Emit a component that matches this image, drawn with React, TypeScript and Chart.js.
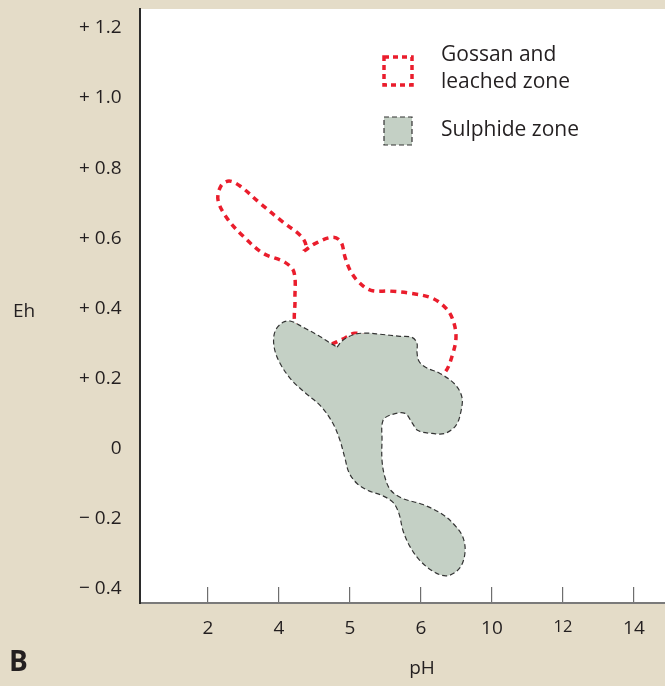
import React, { useEffect, useRef } from 'react';
import { Chart, registerables } from 'chart.js';

Chart.register(...registerables);

const FONT = '"Open Sans", "Noto Sans", sans-serif';
const BG = '#e4dcc8';
const TEXT = '#231f20';

// x axis: equally spaced tick slots carrying the printed pH labels
const pHTickPositions = [1, 2, 3, 4, 5, 6, 7];
const pHTickLabels = ['2', '4', '5', '6', '10', '12', '14'];
// y axis: Eh (volts)
const ehTickValues = [-0.4, -0.2, 0, 0.2, 0.4, 0.6, 0.8, 1.0, 1.2];
const ehTickLabels = ['− 0.4', '− 0.2', '0', '+ 0.2', '+ 0.4', '+ 0.6', '+ 0.8', '+ 1.0', '+ 1.2'];

// Gossan and leached zone outline (x in tick-slot units, y = Eh)
const gossanX = [2.352, 2.521, 2.761, 2.873, 2.93, 3.0, 3.113, 3.296, 3.563, 3.845, 4.155, 4.352, 4.451, 4.493, 4.437, 4.338, 4.197, 3.915, 3.563, 3.254, 3.07, 2.887, 2.69, 2.465, 2.239, 2.225, 2.211, 2.085, 1.775, 1.493, 1.268, 1.141, 1.183, 1.296, 1.451, 1.732, 2.056, 2.31, 2.38, 2.352];
const gossanY = [0.563, 0.586, 0.603, 0.589, 0.546, 0.509, 0.477, 0.451, 0.449, 0.443, 0.429, 0.4, 0.366, 0.317, 0.263, 0.217, 0.2, 0.229, 0.286, 0.317, 0.329, 0.311, 0.297, 0.314, 0.349, 0.423, 0.503, 0.531, 0.557, 0.606, 0.657, 0.709, 0.749, 0.763, 0.749, 0.7, 0.646, 0.606, 0.58, 0.563];

// Sulphide zone outline
const sulphideX = [2.817, 2.901, 3.07, 3.239, 3.423, 3.704, 3.873, 3.944, 3.944, 3.972, 4.07, 4.268, 4.479, 4.577, 4.563, 4.493, 4.338, 4.155, 3.958, 3.873, 3.775, 3.592, 3.465, 3.451, 3.451, 3.493, 3.577, 3.746, 4.028, 4.31, 4.493, 4.592, 4.62, 4.549, 4.38, 4.197, 3.986, 3.845, 3.746, 3.69, 3.606, 3.451, 3.254, 3.099, 2.986, 2.93, 2.859, 2.761, 2.592, 2.38, 2.183, 2.014, 1.93, 1.944, 2.056, 2.169, 2.338, 2.549, 2.704, 2.817];
const sulphideY = [0.289, 0.309, 0.326, 0.329, 0.326, 0.32, 0.317, 0.3, 0.274, 0.249, 0.231, 0.214, 0.183, 0.146, 0.106, 0.066, 0.043, 0.043, 0.051, 0.074, 0.1, 0.097, 0.08, 0.023, -0.034, -0.083, -0.12, -0.143, -0.16, -0.189, -0.223, -0.254, -0.297, -0.34, -0.363, -0.354, -0.32, -0.28, -0.234, -0.186, -0.154, -0.134, -0.12, -0.1, -0.069, -0.029, 0.023, 0.071, 0.12, 0.157, 0.194, 0.243, 0.291, 0.334, 0.36, 0.363, 0.346, 0.323, 0.303, 0.289];

const seriesLabels = ['Sulphide zone', 'Gossan and leached zone'];
const legendLines = [['Gossan and', 'leached zone'], ['Sulphide zone']];

const RED = '#ea1d2c';
const GREY_FILL = '#c4d0c5';
const GREY_LINE = '#333333';

const zip = (xs: number[], ys: number[]) => xs.map((x, i) => ({ x, y: ys[i] }));

const decorPlugin = {
  id: 'decor',
  beforeDraw(chart: any) {
    const { ctx, chartArea: a } = chart;
    ctx.save();
    ctx.fillStyle = BG;
    ctx.fillRect(0, 0, chart.width, chart.height);
    ctx.fillStyle = '#ffffff';
    ctx.fillRect(a.left, a.top, a.right - a.left, a.bottom - a.top);
    ctx.restore();
  },
  afterDraw(chart: any) {
    const { ctx, chartArea: a } = chart;
    ctx.save();
    ctx.fillStyle = TEXT;
    ctx.textBaseline = 'middle';
    // axis titles and panel letter
    ctx.font = `19px ${FONT}`;
    ctx.textAlign = 'center';
    ctx.fillText('Eh', 24, 312);
    ctx.fillText('pH', 422, 669);
    ctx.font = `bold 28px ${FONT}`;
    ctx.textAlign = 'left';
    ctx.fillText('B', 9, 663);

    // legend
    const lx = a.left + 244;
    // gossan swatch
    ctx.save();
    ctx.strokeStyle = RED;
    ctx.lineWidth = 3.5;
    ctx.setLineDash([5, 4]);
    ctx.strokeRect(lx, 57, 28, 28);
    ctx.restore();
    // sulphide swatch
    ctx.save();
    ctx.fillStyle = GREY_FILL;
    ctx.fillRect(lx, 117, 28, 28);
    ctx.strokeStyle = GREY_LINE;
    ctx.lineWidth = 1.2;
    ctx.setLineDash([5, 3]);
    ctx.strokeRect(lx, 117, 28, 28);
    ctx.restore();

    ctx.font = `21px ${FONT}`;
    ctx.fillStyle = TEXT;
    ctx.textAlign = 'left';
    ctx.fillText(legendLines[0][0], lx + 57, 55);
    ctx.fillText(legendLines[0][1], lx + 57, 82);
    ctx.fillText(legendLines[1][0], lx + 57, 130);
    ctx.restore();
  },
};

export default function App() {
  const ref = useRef<HTMLCanvasElement | null>(null);

  useEffect(() => {
    document.body.style.margin = '0';
    document.body.style.background = BG;
    Chart.defaults.font.family = FONT;
    const chart = new Chart(ref.current as HTMLCanvasElement, {
      type: 'scatter',
      data: {
        datasets: [
          {
            label: seriesLabels[0],
            data: zip(sulphideX, sulphideY),
            showLine: true,
            tension: 0.35,
            borderColor: GREY_LINE,
            borderWidth: 1.2,
            borderDash: [5, 3],
            backgroundColor: GREY_FILL,
            fill: 'shape',
            pointRadius: 0,
            pointHoverRadius: 0,
          } as any,
          {
            label: seriesLabels[1],
            data: zip(gossanX, gossanY),
            showLine: true,
            tension: 0.35,
            borderColor: RED,
            borderWidth: 3.5,
            borderDash: [6, 5],
            fill: false,
            pointRadius: 0,
            pointHoverRadius: 0,
          } as any,
        ],
      },
      options: {
        animation: false,
        responsive: true,
        maintainAspectRatio: false,
        events: [],
        layout: { padding: { top: 9, left: 0, right: 0, bottom: 0 } },
        plugins: { legend: { display: false }, tooltip: { enabled: false } },
        scales: {
          x: {
            type: 'linear',
            min: 0.042,
            max: 7.437,
            afterBuildTicks: (s: any) => {
              s.ticks = pHTickPositions.map((v) => ({ value: v }));
            },
            afterFit: (s: any) => {
              s.height = 83;
              s.paddingLeft = 0;
              s.paddingRight = 0;
            },
            grid: {
              display: true,
              drawOnChartArea: false,
              drawTicks: true,
              tickLength: -16,
              color: '#6e6e6e',
              lineWidth: 1.2,
            },
            border: { display: true, color: '#7a7a7a', width: 2 },
            ticks: {
              autoSkip: false,
              maxRotation: 0,
              padding: 30,
              color: TEXT,
              callback: (_v: any, i: number) => pHTickLabels[i],
              font: (c: any) => ({ family: FONT, size: pHTickLabels[c.index] === '12' ? 16.5 : 19 }),
            },
          },
          y: {
            type: 'linear',
            min: -0.441,
            max: 1.254,
            afterBuildTicks: (s: any) => {
              s.ticks = ehTickValues.map((v) => ({ value: v }));
            },
            afterFit: (s: any) => {
              s.width = 140;
              s.paddingTop = 0;
              s.paddingBottom = 0;
            },
            grid: { display: false, drawTicks: false },
            border: { display: true, color: '#2b2b2b', width: 2 },
            ticks: {
              padding: 18.5,
              color: TEXT,
              callback: (_v: any, i: number) => ehTickLabels[i],
              font: { family: FONT, size: 19 },
            },
          },
        },
      } as any,
      plugins: [decorPlugin],
    });
    return () => chart.destroy();
  }, []);

  return (
    <div style={{ position: 'fixed', left: 0, top: 0, width: 665, height: 686, background: BG }}>
      <canvas ref={ref} />
    </div>
  );
}
